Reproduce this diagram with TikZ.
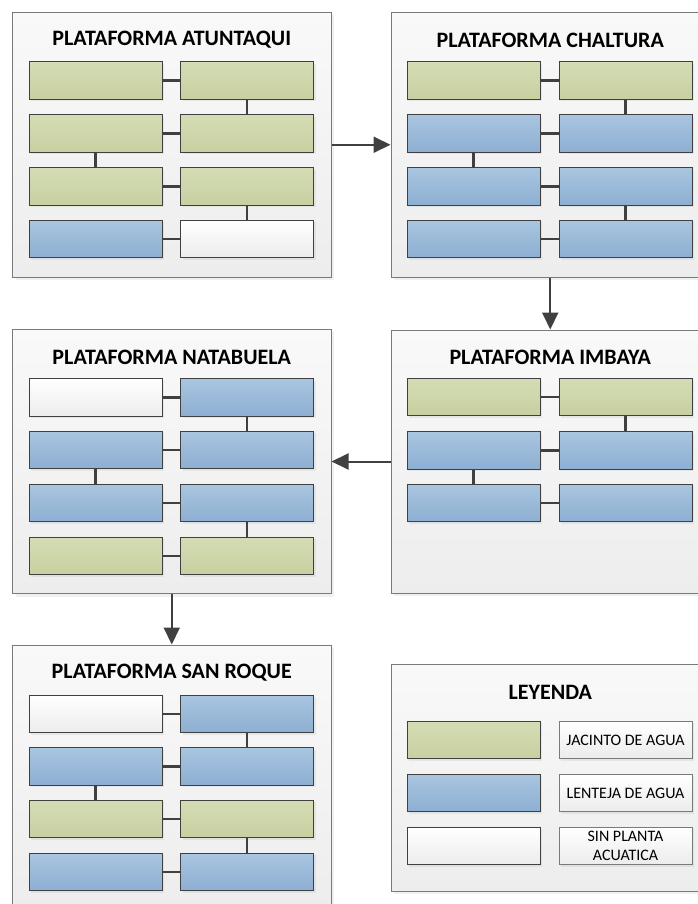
\documentclass[tikz,border=0pt]{standalone}
\usepackage{fontspec}
\setmainfont{Carlito}
\usetikzlibrary{arrows.meta,shadows}
\definecolor{gtop}{HTML}{D4DCB4}
\definecolor{gbot}{HTML}{C8D0A1}
\definecolor{btop}{HTML}{A9C5E0}
\definecolor{bbot}{HTML}{8DAFD2}
\definecolor{wtop}{HTML}{FFFFFF}
\definecolor{wbot}{HTML}{ECECEC}
\definecolor{ptop}{HTML}{F9F9F9}
\definecolor{pbot}{HTML}{EDEDED}
\definecolor{edge}{HTML}{404040}
\definecolor{pedge}{HTML}{7A7A7A}
\tikzset{
  panel/.style={draw=pedge, line width=1pt, top color=ptop, bottom color=pbot,
    minimum width=318.5pt, minimum height=264.5pt, inner sep=0pt,
    drop shadow={shadow xshift=3pt, shadow yshift=-3pt, opacity=0.12}},
  ttl/.style={font=\fontsize{22}{26}\selectfont\bfseries, text=black, inner sep=0pt},
  cell/.style={draw=edge, line width=1pt, minimum width=133pt, minimum height=37.5pt, inner sep=0pt,
    drop shadow={shadow xshift=2pt, shadow yshift=-2pt, opacity=0.12}},
  jac/.style={cell, top color=gtop, bottom color=gbot},
  len/.style={cell, top color=btop, bottom color=bbot},
  sin/.style={cell, top color=wtop, bottom color=wbot},
  lab/.style={cell, top color=wtop, bottom color=wbot, draw=pedge,
    font=\fontsize{16}{18.5}\selectfont, align=center},
  link/.style={draw=edge, line width=2.2pt},
  flow/.style={draw=edge, line width=2pt, -{Triangle[length=17pt,width=16pt]}}
}
\newcommand{\platrow}[6]{%
  \node[#5] (#1a) at (#2,#4) {};
  \node[#6] (#1b) at (#3,#4) {};
  \draw[link] (#1a) -- (#1b);}
\begin{document}
\begin{tikzpicture}[x=1pt,y=-1pt]
\useasboundingbox (0,0) rectangle (698,904);
\clip (0,0) rectangle (698,904);
% panels
\node[panel] (P1) at (171.75,144.75) {};
\node[panel] (P2) at (550.25,144.75) {};
\node[panel, minimum height=263pt] (P3) at (550.25,461.5) {};
\node[panel] (P4) at (171.75,461.5) {};
\node[panel] (P5) at (171.75,777.25) {};
\node[panel, minimum height=227pt] (LG) at (550.25,777.5) {};
% titles
\node[ttl] (T1) at (171.75,40) {PLATAFORMA ATUNTAQUI};
\node[ttl] (T2) at (550.25,40) {PLATAFORMA CHALTURA};
\node[ttl] (T3) at (550.25,357) {PLATAFORMA IMBAYA};
\node[ttl] (T4) at (171.75,357) {PLATAFORMA NATABUELA};
\node[ttl] (T5) at (171.75,673) {PLATAFORMA SAN ROQUE};
\node[ttl] (T6) at (550.25,692) {LEYENDA};
% Atuntaqui
\platrow{A1}{95.5}{247}{80.5}{jac}{jac}
\platrow{A2}{95.5}{247}{133.5}{jac}{jac}
\platrow{A3}{95.5}{247}{186.5}{jac}{jac}
\platrow{A4}{95.5}{247}{239}{len}{sin}
\draw[link] (A1b) -- (A2b);
\draw[link] (A2a) -- (A3a);
\draw[link] (A3b) -- (A4b);
% Chaltura
\platrow{C1}{473.5}{625.5}{80.5}{jac}{jac}
\platrow{C2}{473.5}{625.5}{133.5}{len}{len}
\platrow{C3}{473.5}{625.5}{186.5}{len}{len}
\platrow{C4}{473.5}{625.5}{239}{len}{len}
\draw[link] (C1b) -- (C2b);
\draw[link] (C2a) -- (C3a);
\draw[link] (C3b) -- (C4b);
% Imbaya
\platrow{I1}{473.5}{625.5}{397}{jac}{jac}
\platrow{I2}{473.5}{625.5}{450.5}{len}{len}
\platrow{I3}{473.5}{625.5}{503}{len}{len}
\draw[link] (I1b) -- (I2b);
\draw[link] (I2a) -- (I3a);
% Natabuela
\platrow{N1}{95.5}{247}{397.5}{sin}{len}
\platrow{N2}{95.5}{247}{450}{len}{len}
\platrow{N3}{95.5}{247}{503}{len}{len}
\platrow{N4}{95.5}{247}{556}{jac}{jac}
\draw[link] (N1b) -- (N2b);
\draw[link] (N2a) -- (N3a);
\draw[link] (N3b) -- (N4b);
% San Roque
\platrow{S1}{95.5}{247}{714}{sin}{len}
\platrow{S2}{95.5}{247}{766.5}{len}{len}
\platrow{S3}{95.5}{247}{819}{jac}{jac}
\platrow{S4}{95.5}{247}{872}{len}{len}
\draw[link] (S1b) -- (S2b);
\draw[link] (S2a) -- (S3a);
\draw[link] (S3b) -- (S4b);
% Legend
\node[jac] (L1) at (473.5,740) {};
\node[len] (L2) at (473.5,793) {};
\node[sin] (L3) at (473.5,846) {};
\node[lab] (K1) at (625.5,740) {JACINTO DE AGUA};
\node[lab] (K2) at (625.5,793) {LENTEJA DE AGUA};
\node[lab] (K3) at (625.5,846) {SIN PLANTA\\ACUATICA};
% flow arrows
\draw[flow] (P1) -- (P2);
\draw[flow] (P2) -- (P3);
\draw[flow] (P3) -- (P4);
\draw[flow] (P4) -- (P5);
\end{tikzpicture}
\end{document}
